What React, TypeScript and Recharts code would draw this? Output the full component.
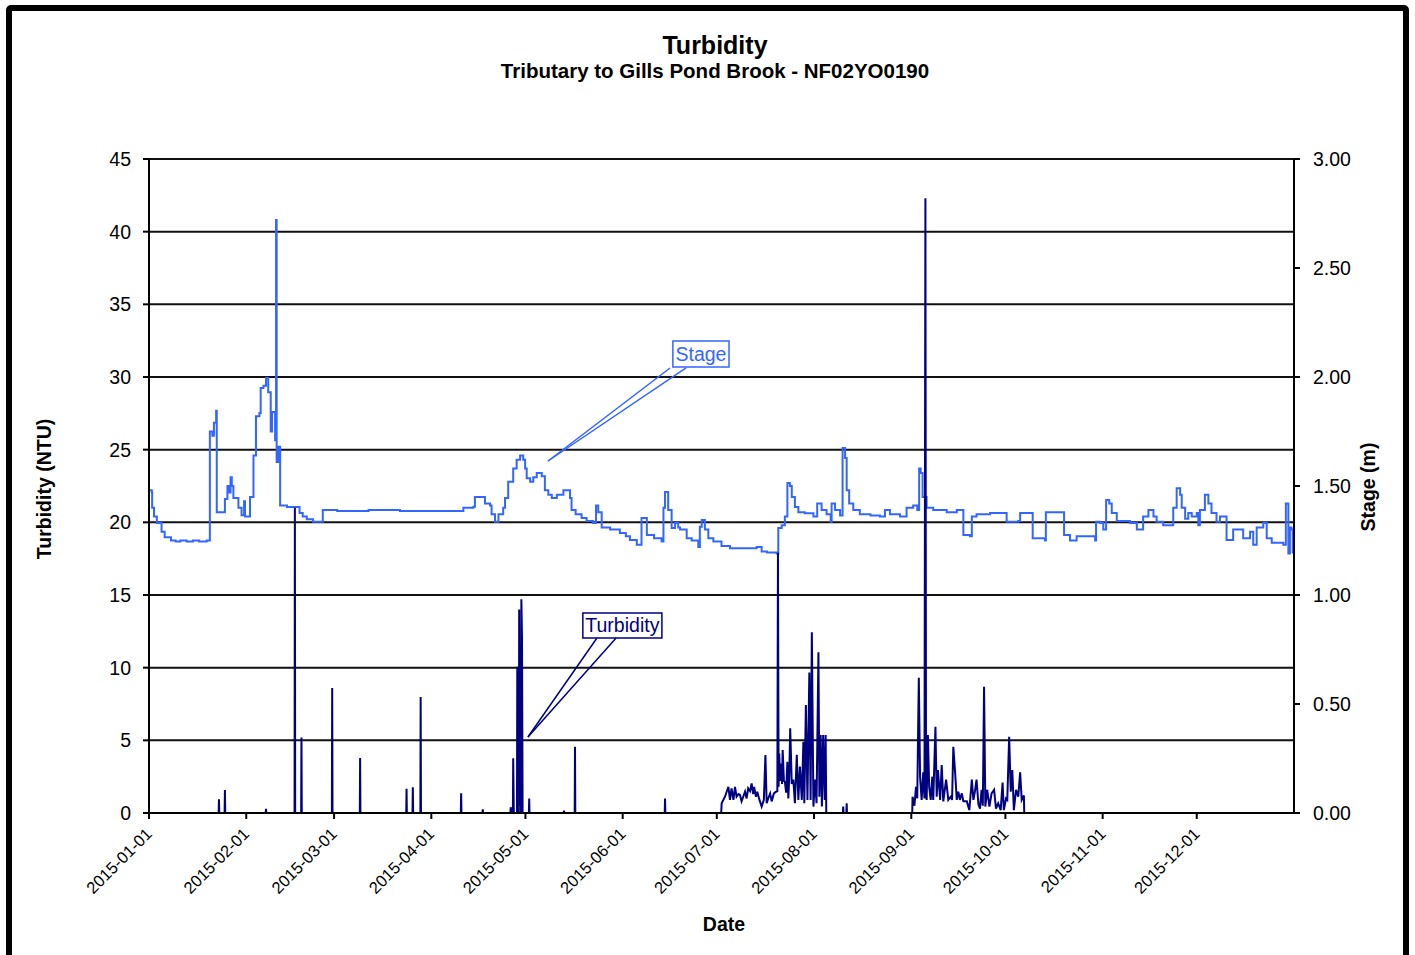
import {
  LineChart,
  Line,
  XAxis,
  YAxis,
  CartesianGrid,
  ReferenceLine,
  ReferenceArea,
} from 'recharts';

const STAGE_COLOR = '#3366ff';
const TURB_COLOR = '#000080';
const FONT = '"Liberation Sans", Arial, sans-serif';

// x axis: day of year (0 = 2015-01-01)
const MONTH_DAYS = [0, 31, 59, 90, 120, 151, 181, 212, 243, 273, 304, 334];
const MONTH_LABELS = [
  '2015-01-01', '2015-02-01', '2015-03-01', '2015-04-01', '2015-05-01', '2015-06-01',
  '2015-07-01', '2015-08-01', '2015-09-01', '2015-10-01', '2015-11-01', '2015-12-01',
];
const NTU_TICKS = [0, 5, 10, 15, 20, 25, 30, 35, 40, 45];
const STAGE_TICKS = [0, 0.5, 1, 1.5, 2, 2.5, 3];

// Stage (m), [day, value]
const stageReadings: [number, number][] = [
  [0, 1.48], [0.9, 1.47], [1, 1.4], [1.6, 1.36], [2.5, 1.33], [4, 1.29], [5, 1.265], [7, 1.25],
  [8.5, 1.245], [10, 1.25], [12, 1.245], [14, 1.25], [16, 1.245], [18.4, 1.25], [19.4, 1.75],
  [20.2, 1.73], [20.7, 1.79], [21.4, 1.845], [21.6, 1.38], [23.7, 1.38], [24.2, 1.44], [25, 1.5],
  [25.6, 1.47], [26, 1.54], [26.4, 1.5], [26.9, 1.445], [28.5, 1.4], [29.5, 1.366], [30.3, 1.43],
  [30.6, 1.36], [32.2, 1.45], [33.3, 1.64], [34.1, 1.82], [35.2, 1.835], [35.6, 1.95], [36.5, 1.96],
  [37.3, 1.995], [38, 1.93], [38.8, 1.75], [39.2, 1.84], [40.2, 1.71], [40.5, 2.72], [40.7, 1.61],
  [41.2, 1.68], [41.8, 1.41], [44, 1.404], [46, 1.404], [48, 1.376], [49, 1.36], [50.3, 1.348],
  [52.3, 1.336], [55.4, 1.39], [60, 1.385], [70, 1.39], [80, 1.385], [90, 1.385], [100.2, 1.4],
  [103.4, 1.405], [103.9, 1.45], [105.5, 1.45], [107.1, 1.42], [108.7, 1.41], [109.2, 1.37],
  [110.3, 1.336], [111.4, 1.37], [112.9, 1.4], [113.5, 1.445], [114.5, 1.52], [116.1, 1.58],
  [117.2, 1.62], [118.3, 1.64], [119.3, 1.62], [119.9, 1.58], [120.4, 1.536], [121.5, 1.52],
  [122.5, 1.54], [123.6, 1.56], [125.2, 1.545], [126.2, 1.48], [127.3, 1.46], [128.4, 1.445],
  [130, 1.46], [132.1, 1.48], [134.2, 1.445], [134.7, 1.39], [136, 1.37], [137.9, 1.353],
  [139.5, 1.34], [141.6, 1.33], [142.5, 1.41], [143.2, 1.38], [144.3, 1.31], [147, 1.3],
  [150.1, 1.284], [152, 1.27], [153.3, 1.252], [155.5, 1.23], [157, 1.353], [158.7, 1.275],
  [161, 1.26], [163.4, 1.245], [164, 1.4], [164.5, 1.473], [165.5, 1.39], [166.6, 1.307],
  [167.7, 1.33], [168.7, 1.31], [169.3, 1.3], [171.4, 1.26], [173, 1.25], [175.1, 1.22],
  [175.6, 1.313], [176.2, 1.344], [177.2, 1.3], [178.3, 1.26], [179.9, 1.245], [182.5, 1.225],
  [185.2, 1.215], [190, 1.215], [193.7, 1.22], [195.3, 1.2], [197, 1.195], [200.1, 1.19],
  [200.6, 1.307], [201.7, 1.32], [202.7, 1.36], [203.5, 1.514], [204.3, 1.5], [204.9, 1.45],
  [205.9, 1.404], [207, 1.38], [209, 1.375], [211.8, 1.36], [213, 1.42], [214.4, 1.39],
  [216, 1.37], [217.3, 1.336], [217.6, 1.42], [218.7, 1.39], [220.3, 1.365], [221.1, 1.674],
  [221.9, 1.628], [222.4, 1.48], [223.2, 1.42], [224.5, 1.39], [226.6, 1.37], [230, 1.365],
  [233, 1.36], [234.6, 1.39], [236.2, 1.37], [239.4, 1.36], [241.5, 1.4], [243.6, 1.41],
  [244.9, 1.39], [245.5, 1.58], [246, 1.56], [246.6, 1.45], [247.9, 1.4], [250, 1.39],
  [254.3, 1.38], [257.5, 1.39], [259.6, 1.275], [261.7, 1.27], [262.3, 1.36], [263.8, 1.37],
  [268.1, 1.376], [272.9, 1.376], [273.4, 1.336], [277.1, 1.34], [277.7, 1.376], [281.4, 1.376],
  [281.7, 1.26], [285.6, 1.25], [285.9, 1.38], [291.5, 1.38], [291.7, 1.275], [293.6, 1.25],
  [295.7, 1.27], [301.6, 1.25], [301.9, 1.336], [303.2, 1.33], [304.2, 1.3], [305.1, 1.436],
  [306.1, 1.42], [306.9, 1.376], [308.5, 1.34], [312.7, 1.33], [314.9, 1.3], [316.4, 1.3],
  [316.9, 1.36], [318.6, 1.39], [320.2, 1.36], [321.2, 1.336], [323.3, 1.32], [326, 1.32],
  [326.5, 1.4], [327.6, 1.49], [328.7, 1.46], [329.2, 1.4], [330.3, 1.35], [331.3, 1.376],
  [332.4, 1.36], [334, 1.376], [334.5, 1.32], [335, 1.39], [336.6, 1.46], [337.7, 1.42],
  [338.7, 1.376], [340.3, 1.336], [341.4, 1.36], [343.5, 1.252], [345.6, 1.3], [348.8, 1.26],
  [351, 1.29], [352, 1.23], [353.1, 1.31], [355.2, 1.33], [356.3, 1.26], [357.9, 1.24],
  [361.6, 1.23], [362.4, 1.42], [363.2, 1.19], [363.7, 1.31], [364.2, 1.3], [364.6, 1.19],
];

// Turbidity (NTU), [day, value]
const turbidityReadings: [number, number][] = [
  [0, 0], [22.2, 0], [22.3, 0.94], [22.4, 0], [24.1, 0], [24.2, 1.58], [24.3, 0],
  [37.2, 0], [37.3, 0.28], [37.4, 0], [46.4, 0], [46.5, 21], [46.6, 0],
  [48.5, 0], [48.6, 5.2], [48.7, 0], [58.3, 0], [58.4, 8.6], [58.5, 0],
  [67.2, 0], [67.3, 3.78], [67.4, 0], [82, 0], [82.1, 1.67], [82.2, 0],
  [84, 0], [84.1, 1.77], [84.2, 0], [86.5, 0], [86.6, 7.98], [86.7, 0],
  [99.4, 0], [99.5, 1.35], [99.6, 0], [106.3, 0], [106.4, 0.25], [106.5, 0],
  [115.2, 0], [115.3, 0.4], [115.5, 0], [116, 0], [116.1, 3.76], [116.3, 0],
  [117.3, 0], [117.4, 10.07], [117.6, 0], [117.9, 0], [118, 14], [118.2, 0.5],
  [118.4, 7.3], [118.6, 0], [118.7, 14.7], [118.9, 12.1], [119.1, 0],
  [121.1, 0], [121.2, 1], [121.3, 0], [132.2, 0], [132.3, 0.16], [132.4, 0],
  [135.7, 0], [135.8, 4.56], [135.9, 0], [164.4, 0], [164.5, 1], [164.6, 0],
  [182.4, 0], [182.55, 0.67], [183.6, 1.12], [184.2, 1.5], [184.7, 1.8], [185.2, 0.9],
  [185.7, 1.7], [186.3, 0.9], [186.8, 1.8], [187.3, 1.12], [187.9, 1.3], [188.4, 1.24],
  [188.9, 0.8], [189.4, 1.1], [190, 1.47], [190.5, 1], [191, 1.7], [191.6, 1.5],
  [192.1, 2.04], [192.6, 1.3], [192.9, 1.8], [193.5, 1.12], [193.9, 1.47], [194.6, 0.9],
  [195.3, 0.44], [196, 0.9], [196.5, 3.99], [196.9, 0.67], [197.4, 1], [198, 1.35],
  [198.5, 0.8], [199.2, 1.35], [199.9, 1.47], [200.3, 1.5], [200.5, 17.9], [200.7, 1.8],
  [200.9, 4.1], [201.2, 2.2], [201.5, 3.4], [201.8, 2], [202, 4.33], [202.4, 2.2],
  [202.7, 2.16], [203.1, 1.4], [203.5, 3.53], [203.8, 1], [204.1, 2.5], [204.4, 5.83],
  [204.9, 2], [205.4, 2.3], [205.9, 0.67], [206.5, 4], [207, 0.9], [207.5, 3.19],
  [208.1, 0.9], [208.6, 4.9], [208.9, 0.67], [209.4, 7.43], [209.9, 0.9], [210.5, 9.66],
  [210.9, 0.9], [211.3, 12.43], [211.8, 0.44], [212.3, 2.3], [212.8, 0.67], [213.4, 11.06],
  [213.7, 1.12], [214.1, 5.37], [214.5, 0.44], [214.9, 5.37], [215.4, 0.9], [215.7, 5.37],
  [215.9, 0], [221.2, 0], [221.3, 0.44], [221.4, 0], [222.3, 0], [222.4, 0.67], [222.5, 0],
  [243.3, 0], [243.4, 1.12], [244, 0.5], [244.5, 1.8], [244.9, 1], [245.4, 9.3],
  [245.8, 2.5], [246.3, 0.9], [246.8, 2.8], [247.2, 1], [247.5, 42.3], [247.7, 1.5],
  [247.9, 0.9], [248.3, 5.37], [248.7, 1.8], [249.2, 0.9], [249.7, 2.5], [250, 0.9],
  [250.7, 5.94], [251.1, 1.12], [251.5, 2.96], [252.2, 0.9], [252.7, 3.3], [253.2, 0.8],
  [254.1, 2.3], [254.8, 0.9], [255.6, 1.12], [256, 0.9], [256.4, 4.56], [257, 2.7],
  [257.5, 0.9], [258, 1.47], [258.5, 0.9], [259.1, 1.35], [259.6, 0.8], [260.7, 0.8],
  [261.5, 0.2], [262.3, 2.3], [262.8, 0.9], [263.3, 1.5], [263.8, 2.3], [264.4, 0.6],
  [264.9, 0.3], [265.4, 1.6], [265.8, 0.5], [266.2, 8.69], [266.6, 0.44], [267.2, 1.6],
  [267.9, 0.44], [268.6, 1.35], [269.4, 1.6], [270, 0.3], [270.7, 0.67], [271.5, 0.2],
  [272.1, 2.1], [272.5, 0.2], [273.2, 1], [273.6, 0.9], [274.2, 5.25], [274.7, 1.47],
  [275.2, 2.96], [275.7, 0.2], [276.4, 1.6], [277.1, 1.12], [277.7, 2.8], [278.2, 0.9],
  [278.9, 1.2], [279, 0], [365, 0],
];

// callouts, in chart units (day, NTU)
const stageNote = { box: [167, 184.9, 30.69, 32.48], tip: [127.2, 24.22], bases: [166.1, 171.2], baseY: 30.62 };
const turbNote = { box: [138.3, 163.5, 12.04, 13.76], tip: [120.8, 5.23], bases: [142.8, 148.9], baseY: 12.04 };

const stageData = stageReadings.map(([d, v]) => ({ d, stage: v }));
const turbData = turbidityReadings.map(([d, v]) => ({ d, ntu: v }));

function DateTick({ x, y, payload }: any) {
  const i = MONTH_DAYS.indexOf(payload.value);
  const ax = x + 4;
  const ay = y + 14;
  return (
    <text x={ax} y={ay} textAnchor="end" fontSize={16.5} fill="#000" transform={`rotate(-45 ${ax} ${ay})`}>
      {MONTH_LABELS[i]}
    </text>
  );
}

export default function App() {
  return (
    <div style={{ position: 'fixed', left: 0, top: 0, width: 1415, height: 955, overflow: 'hidden', background: '#fff', fontFamily: FONT }}>
      <div style={{ position: 'absolute', left: 6, top: 5, width: 1403, height: 1100, border: '6px solid #000', borderRadius: 5, boxSizing: 'border-box' }} />
      <div style={{ position: 'absolute', left: 0, top: 0 }}>
        <LineChart width={1415} height={955} margin={{ top: 159, right: 61, bottom: 52, left: 89 }}>
          <CartesianGrid yAxisId="left" vertical={false} stroke="#111" strokeWidth={2} />
          <XAxis
            type="number"
            dataKey="d"
            domain={[0, 365]}
            ticks={MONTH_DAYS}
            allowDataOverflow
            height={90}
            tickSize={6}
            tick={<DateTick />}
            stroke="#000"
            strokeWidth={2}
          />
          <YAxis
            yAxisId="left"
            domain={[0, 45]}
            ticks={NTU_TICKS}
            width={60}
            tickSize={6}
            tickMargin={12}
            tick={{ fontSize: 19.5, fill: '#000' }}
            stroke="#000"
            strokeWidth={2}
          />
          <YAxis
            yAxisId="right"
            orientation="right"
            domain={[0, 3]}
            ticks={STAGE_TICKS}
            width={60}
            tickSize={6}
            tickMargin={13}
            tickFormatter={(v: number) => v.toFixed(2)}
            tick={{ fontSize: 19.5, fill: '#000', textAnchor: 'start' }}
            stroke="#000"
            strokeWidth={2}
          />
          <Line
            yAxisId="right"
            data={stageData}
            dataKey="stage"
            type="stepAfter"
            stroke={STAGE_COLOR}
            strokeWidth={2}
            dot={false}
            isAnimationActive={false}
          />
          <Line
            yAxisId="left"
            data={turbData}
            dataKey="ntu"
            type="linear"
            stroke={TURB_COLOR}
            strokeWidth={2}
            dot={false}
            isAnimationActive={false}
          />

          {/* Stage callout */}
          <ReferenceLine yAxisId="left" segment={[{ x: stageNote.tip[0], y: stageNote.tip[1] }, { x: stageNote.bases[0], y: stageNote.baseY }]} stroke={STAGE_COLOR} strokeWidth={1.5} />
          <ReferenceLine yAxisId="left" segment={[{ x: stageNote.tip[0], y: stageNote.tip[1] }, { x: stageNote.bases[1], y: stageNote.baseY }]} stroke={STAGE_COLOR} strokeWidth={1.5} />
          <ReferenceArea
            yAxisId="left"
            x1={stageNote.box[0]}
            x2={stageNote.box[1]}
            y1={stageNote.box[2]}
            y2={stageNote.box[3]}
            fill="#fff"
            fillOpacity={1}
            stroke={STAGE_COLOR}
            strokeWidth={1.5}
            label={{ value: 'Stage', position: 'center', fill: STAGE_COLOR, fontSize: 19.5 }}
          />

          {/* Turbidity callout */}
          <ReferenceLine yAxisId="left" segment={[{ x: turbNote.tip[0], y: turbNote.tip[1] }, { x: turbNote.bases[0], y: turbNote.baseY }]} stroke={TURB_COLOR} strokeWidth={1.5} />
          <ReferenceLine yAxisId="left" segment={[{ x: turbNote.tip[0], y: turbNote.tip[1] }, { x: turbNote.bases[1], y: turbNote.baseY }]} stroke={TURB_COLOR} strokeWidth={1.5} />
          <ReferenceArea
            yAxisId="left"
            x1={turbNote.box[0]}
            x2={turbNote.box[1]}
            y1={turbNote.box[2]}
            y2={turbNote.box[3]}
            fill="#fff"
            fillOpacity={1}
            stroke={TURB_COLOR}
            strokeWidth={1.5}
            label={{ value: 'Turbidity', position: 'center', fill: TURB_COLOR, fontSize: 19.5 }}
          />
        </LineChart>
      </div>
      <svg width={1415} height={955} style={{ position: 'absolute', left: 0, top: 0, pointerEvents: 'none' }}>
        <text x={715} y={54} textAnchor="middle" fontWeight="bold" fontSize={25}>Turbidity</text>
        <text x={715} y={78} textAnchor="middle" fontWeight="bold" fontSize={20.5}>Tributary to Gills Pond Brook - NF02YO0190</text>
        <text x={51} y={489} textAnchor="middle" fontWeight="bold" fontSize={19.5} transform="rotate(-90 51 489)">Turbidity (NTU)</text>
        <text x={1375} y={487} textAnchor="middle" fontWeight="bold" fontSize={19.5} transform="rotate(-90 1375 487)">Stage (m)</text>
        <text x={724} y={931} textAnchor="middle" fontWeight="bold" fontSize={19.5}>Date</text>
      </svg>
    </div>
  );
}
